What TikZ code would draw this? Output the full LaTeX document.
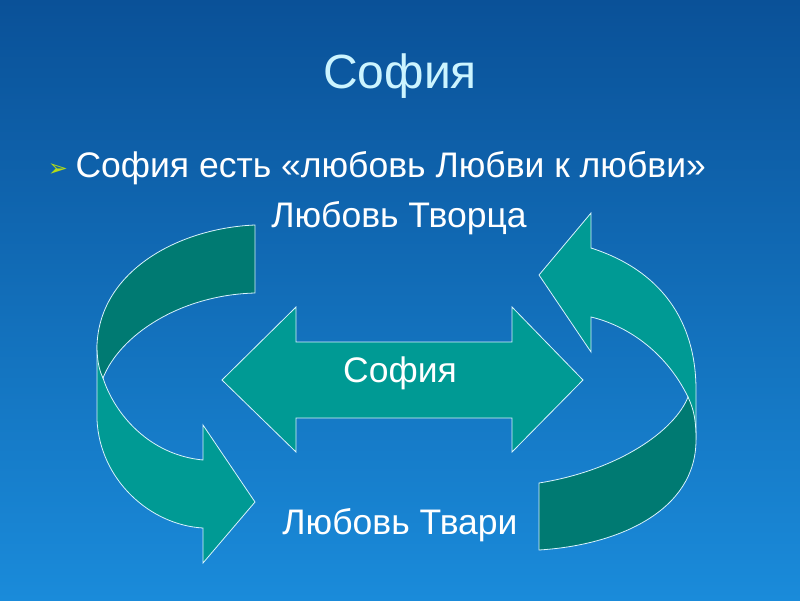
\documentclass[tikz,border=0pt]{standalone}
\usepackage{fontspec}
\setmainfont{Liberation Sans}
\newfontfamily\dejavu{DejaVu Sans}
\begin{document}
\begin{tikzpicture}[x=1pt,y=-1pt,
  band/.style={draw=white!85!cyan,line width=0.8pt,fill=light},
  darkband/.style={draw=white!85!cyan,line width=0.8pt,fill=dark},
  lbl/.style={text=white,font=\fontsize{35.5}{38}\selectfont}]
\definecolor{light}{HTML}{009A94}
\definecolor{dark}{HTML}{007A72}
\definecolor{bgtop}{HTML}{0A5198}
\definecolor{bgbot}{HTML}{1A8BDA}
\definecolor{titlec}{HTML}{CCF4FF}
\shade[top color=bgtop,bottom color=bgbot] (0,0) rectangle (800,600);
\useasboundingbox (0,0) rectangle (800,600);
% left arrow
\path[band] (97,345) -- (97,420) .. controls (100,480) and (150,525) .. (203,528) -- (203,563) -- (255,502) -- (203,425) -- (203,460) .. controls (150,455) and (115,415) .. (103,378) -- cycle;
\path[darkband] (255,225) -- (255,293) .. controls (180,295) and (120,335) .. (103,378) .. controls (99,370) and (97,360) .. (97,345) .. controls (100,270) and (180,228) .. (255,225) -- cycle;
% right arrow
\path[band] (539,275) -- (591,213) -- (591,248) .. controls (660,270) and (696,320) .. (696,390) -- (696,440) -- (688,397) .. controls (665,350) and (625,325) .. (591,317) -- (591,352) -- cycle;
\path[darkband] (539,483) .. controls (620,470) and (675,430) .. (688,397) .. controls (694,410) and (696,420) .. (696,440) .. controls (696,510) and (620,545) .. (539,550) -- cycle;
% double arrow
\path[band] (222,380) -- (296,307) -- (296,342) -- (512,342) -- (512,307) -- (583,380) -- (512,452) -- (512,418) -- (296,418) -- (296,452) -- cycle;
\node[text=titlec,font=\fontsize{48}{52}\selectfont] (title) at (400,76) {София};
\node[text=yellow!70!green,font=\dejavu\fontsize{24}{26}\selectfont] (bul) at (58,170) {➢};
\node[lbl,anchor=west] (line) at (72,168) {София есть «любовь Любви к любви»};
\node[lbl] (top) at (399,218) {Любовь Творца};
\node[lbl] (mid) at (400,373) {София};
\node[lbl] (bot) at (400,525) {Любовь Твари};
\end{tikzpicture}
\end{document}
